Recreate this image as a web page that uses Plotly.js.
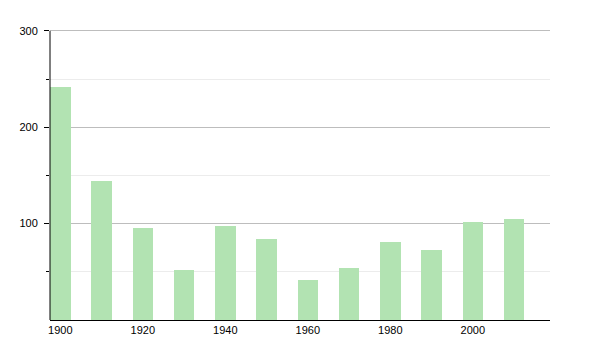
<!DOCTYPE html>
<html>
<head>
<meta charset="utf-8">
<script src="https://cdn.plot.ly/plotly-3.0.1.min.js"></script>
<style>
html,body{margin:0;padding:0;background:#fff;}
#chart{width:600px;height:350px;}
</style>
</head>
<body>
<div id="chart"></div>
<script>
const years = [1900, 1910, 1920, 1930, 1940, 1950, 1960, 1970, 1980, 1990, 2000, 2010];
const values = [242, 144, 95, 52, 98, 84, 41, 54, 81, 73, 102, 105];
const xTickVals = [1900, 1920, 1940, 1960, 1980, 2000];
const yTickVals = [100, 200, 300];
const yMinorVals = [50, 150, 250];

const trace = {
  type: 'bar',
  x: years,
  y: values,
  width: 5,
  marker: {color: 'rgb(178,227,178)', line: {width: 0}},
  hoverinfo: 'x+y'
};

const layout = {
  width: 600,
  height: 350,
  margin: {l: 50, r: 50, t: 28, b: 30},
  paper_bgcolor: '#fff',
  plot_bgcolor: '#fff',
  showlegend: false,
  font: {family: 'Liberation Sans, Arial, sans-serif', size: 11, color: '#000'},
  xaxis: {
    range: [1897.5, 2018.7],
    tickmode: 'array',
    tickvals: xTickVals,
    ticktext: xTickVals.map(String),
    ticks: '',
    showgrid: false,
    zeroline: false,
    showline: true,
    linecolor: '#000',
    linewidth: 1,
    ticklabelstandoff: 0,
    tickfont: {color: '#000'}
  },
  yaxis: {
    range: [0, 303],
    tickmode: 'array',
    tickvals: yTickVals,
    ticktext: yTickVals.map(String),
    ticks: 'outside',
    ticklen: 5,
    tickcolor: '#000',
    showgrid: true,
    gridcolor: '#bdbdbd',
    gridwidth: 1,
    zeroline: false,
    showline: false,
    ticklabelstandoff: 4,
    tickfont: {color: '#000'},
    minor: {
      tickmode: 'array',
      tickvals: yMinorVals,
      ticks: 'outside',
      ticklen: 3,
      tickcolor: '#000',
      showgrid: true,
      gridcolor: '#ececec',
      gridwidth: 1
    }
  },
  shapes: [{
    type: 'line', xref: 'paper', yref: 'y',
    x0: 0, x1: 0, y0: 0, y1: 300,
    line: {color: '#000', width: 1}
  }],
  bargap: 0
};

Plotly.newPlot('chart', [trace], layout, {displayModeBar: false, staticPlot: true});
</script>
</body>
</html>
